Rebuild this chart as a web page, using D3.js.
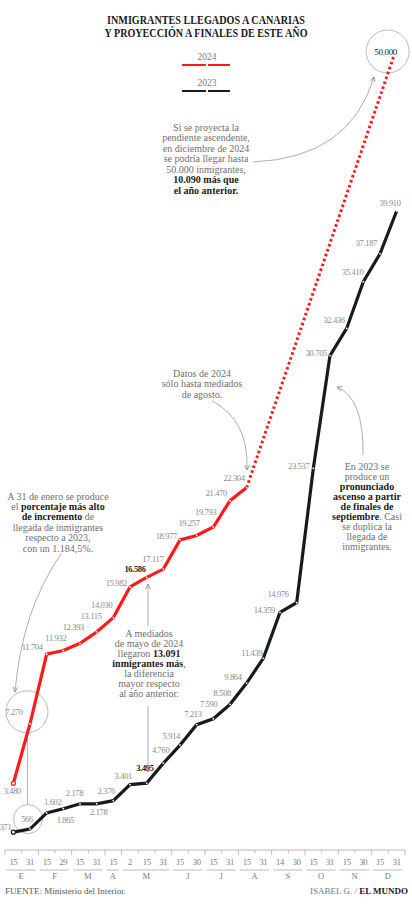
<!DOCTYPE html>
<html>
<head>
<meta charset="utf-8">
<script src="https://cdn.jsdelivr.net/npm/d3@7"></script>
<style>
  body { margin: 0; background: #fff; }
  text { font-family: "Liberation Serif", serif; }
</style>
</head>
<body>
<div id="chart"></div>
<script>
// tick labels (day of month) and month groups
var dayLabels = ["15","31","15","29","15","31","15","2","15","31","15","30",
                 "15","31","15","31","14","30","15","31","15","30","15","31"];
var monthLabels = ["E","F","M","A","M","J","J","A","S","O","N","D"];
var monthSpans  = [2, 2, 2, 1, 3, 2, 2, 2, 2, 2, 2, 2];

// accumulated arrivals
var values2023 = [371, 566, 1602, 1865, 2178, 2178, 2376, 3401, 3495, 4760, 5914, 7213,
                  7590, 8508, 9864, 11439, 14359, 14976, 23537, 30705, 32436, 35410, 37187, 39910];
var values2024 = [3480, 7270, 11704, 11932, 12393, 13115, 14030, 15982, 16586, 17117,
                  18977, 19257, 19793, 21470, 22304];
var projection2024 = 50000;

// label offsets from each point [dx, dy, anchor]
var lab2023 = [[-2,-5,"end"],null,[6,-11,"middle"],[2,11,"middle"],[-5.5,-11,"middle"],[2,8,"middle"],
  [-7,-10,"middle"],[2,-9,"end"],[7,-15,"end"],[6,-13,"end"],[0,-9,"end"],[5,-11,"end"],
  [4,-15,"end"],[1,-11,"end"],[-5,-6,"end"],[-1,-5,"end"],[-5,-2,"end"],[-8,-9,"end"],
  [-4,-2,"end"],[-3,-3,"end"],[-2,-8,"end"],[0,-10,"end"],[-3,-11,"end"],[4,-8,"end"]];
var lab2024 = [[-1,8,"middle"],null,[-4,-7,"end"],[3,-13,"end"],[4,-16,"end"],[5,-16,"end"],
  [-1,-13,"end"],[-3,-4,"end"],[-1,-8,"end"],[0,-10,"end"],[-3,-4,"end"],[3,-12,"end"],
  [3,-15,"end"],[-3,-8,"end"],[-2,-10,"end"]];
var bold2023 = [8], bold2024 = [8];

var W = 412, H = 909;
var RED = "#ff1a1a", GREY = "#7a7a7a", DARK = "#1a1a1a";

var svg = d3.select("#chart").append("svg")
    .attr("width", W).attr("height", H);
svg.append("rect").attr("width", W).attr("height", H).attr("fill", "#fff");

var defs = svg.append("defs");
defs.append("marker")
    .attr("id", "arrow")
    .attr("viewBox", "0 0 6 6")
    .attr("refX", 5).attr("refY", 3)
    .attr("markerWidth", 6).attr("markerHeight", 6)
    .attr("markerUnits", "userSpaceOnUse")
    .attr("orient", "auto")
  .append("path")
    .attr("d", "M0,0.6 L5,3 L0,5.4")
    .attr("fill", "none").attr("stroke", "#888").attr("stroke-width", 0.8);

// scales
var idx = d3.range(dayLabels.length);
var x = d3.scaleBand().domain(idx).range([5, 405]).paddingInner(0).paddingOuter(0);
var cx = function(i) { return x(i) + x.bandwidth() / 2; };
var y = d3.scaleLinear().domain([0, 50000]).range([838, 52.5]);

// title
var title = ["INMIGRANTES LLEGADOS A CANARIAS", "Y PROYECCIÓN A FINALES DE ESTE AÑO"];
svg.selectAll(".title").data(title).enter().append("text")
    .attr("class", "title")
    .attr("x", 206)
    .attr("y", function(d, i) { return 24 + i * 12.5; })
    .attr("text-anchor", "middle")
    .attr("font-size", 12.5)
    .attr("font-weight", "bold")
    .attr("fill", DARK)
    .attr("textLength", function(d, i) { return i ? 203 : 198; })
    .attr("lengthAdjust", "spacingAndGlyphs")
    .text(function(d) { return d; });

// legend
var legend = [["2024", RED], ["2023", DARK]];
legend.forEach(function(l, i) {
  var ly = 60 + i * 26;
  svg.append("text").attr("x", 207).attr("y", ly)
      .attr("text-anchor", "middle").attr("font-size", 9.5).attr("fill", GREY)
      .text(l[0]);
  svg.append("line").attr("x1", 182).attr("x2", 206).attr("y1", ly + 5).attr("y2", ly + 5)
      .attr("stroke", l[1]).attr("stroke-width", 2);
  svg.append("line").attr("x1", 208).attr("x2", 230).attr("y1", ly + 5).attr("y2", ly + 5)
      .attr("stroke", l[1]).attr("stroke-width", 2);
});

// axis
var axisY = 850;
var axis = svg.append("g").attr("class", "axis");
axis.append("line").attr("x1", 5).attr("x2", 405).attr("y1", axisY).attr("y2", axisY)
    .attr("stroke", "#aaa").attr("stroke-width", 0.8);

var monthStart = [0];
monthSpans.forEach(function(s, i) { monthStart.push(monthStart[i] + s); });

axis.selectAll(".tick").data(d3.range(dayLabels.length + 1)).enter().append("line")
    .attr("x1", function(i) { return i < dayLabels.length ? x(i) : x.range()[1]; })
    .attr("x2", function(i) { return i < dayLabels.length ? x(i) : x.range()[1]; })
    .attr("y1", axisY)
    .attr("y2", function(i) { return monthStart.indexOf(i) >= 0 ? axisY + 5 : axisY + 3; })
    .attr("stroke", "#aaa").attr("stroke-width", 0.8);

axis.selectAll(".day").data(dayLabels).enter().append("text")
    .attr("x", function(d, i) { return cx(i); })
    .attr("y", axisY + 15)
    .attr("text-anchor", "middle").attr("font-size", 8.5).attr("fill", GREY)
    .attr("letter-spacing", -0.3)
    .text(function(d) { return d; });

monthLabels.forEach(function(m, i) {
  var a = x(monthStart[i]);
  var b = monthStart[i + 1] < dayLabels.length ? x(monthStart[i + 1]) : x.range()[1];
  axis.append("line").attr("x1", a + 1.5).attr("x2", b - 2.5)
      .attr("y1", axisY + 20).attr("y2", axisY + 20)
      .attr("stroke", "#aaa").attr("stroke-width", 0.8);
  axis.append("text").attr("x", (a + b) / 2 - 0.5).attr("y", axisY + 29)
      .attr("text-anchor", "middle").attr("font-size", 8.5).attr("fill", GREY)
      .text(m);
});

// circled highlights (drawn under the lines)
function ring(px, py, r, label, lx) {
  svg.append("circle").attr("cx", px).attr("cy", py).attr("r", r)
      .attr("fill", "none").attr("stroke", "#aaa").attr("stroke-width", 0.8);
  svg.append("text").attr("x", px + (lx || 0)).attr("y", py).attr("dy", "0.35em")
      .attr("text-anchor", "middle").attr("font-size", label.dark ? 9 : 8.5)
      .attr("letter-spacing", -0.35)
      .attr("fill", label.dark ? DARK : "#8a8a8a")
      .text(label.t);
}
var fmt = function(v) { return d3.format(",")(v).replace(/,/g, "."); };
ring(cx(1) - 3, y(values2024[1]) - 12, 21, {t: fmt(values2024[1])}, -13);
ring(cx(1) - 2, y(values2023[1]) - 10, 14.5, {t: fmt(values2023[1])}, -1);
ring(cx(idx.length - 1) - 9, y(projection2024) - 1, 21.5, {t: fmt(projection2024), dark: true}, -2);

svg.append("line")
    .attr("x1", cx(1) - 2.5).attr("x2", cx(1) - 2.5)
    .attr("y1", y(values2024[1]) - 12 + 21).attr("y2", y(values2023[1]) - 10 - 14.5)
    .attr("stroke", "#aaa").attr("stroke-width", 0.8);

// lines
var line = d3.line()
    .x(function(d, i) { return cx(i); })
    .y(function(d) { return y(d); });

// projection (dotted)
var last = values2024.length - 1;
svg.append("path")
    .datum([[cx(last), y(values2024[last])], [cx(idx.length - 1) - 3, y(projection2024) + 4]])
    .attr("d", d3.line())
    .attr("fill", "none").attr("stroke", RED)
    .attr("stroke-width", 3).attr("stroke-dasharray", "2.6 2.6");

svg.append("path").datum(values2023)
    .attr("d", line)
    .attr("fill", "none").attr("stroke", DARK).attr("stroke-width", 3.2)
    .attr("stroke-linejoin", "miter");

svg.append("path").datum(values2024)
    .attr("d", line)
    .attr("fill", "none").attr("stroke", RED).attr("stroke-width", 3.2)
    .attr("stroke-linejoin", "miter");

// vertex dots
[[values2023, DARK], [values2024, RED]].forEach(function(s) {
  svg.append("g").selectAll("circle").data(s[0]).enter().append("circle")
      .attr("cx", function(d, i) { return cx(i); })
      .attr("cy", function(d) { return y(d); })
      .attr("r", function(d, i) { return i === 0 ? 2 : 0.9; })
      .attr("fill", "#fff")
      .attr("stroke", function(d, i) { return i === 0 ? s[1] : "none"; })
      .attr("stroke-width", 1.2);
});

// value labels, placed by index (2.178 repeats)
function valueLabels(values, offs, bolds) {
  var g = svg.append("g");
  values.forEach(function(v, i) {
    if (!offs[i]) return;
    var b = bolds.indexOf(i) >= 0;
    g.append("text")
      .attr("x", cx(i) + offs[i][0]).attr("y", y(v) + offs[i][1])
      .attr("dy", "0.35em")
      .attr("text-anchor", offs[i][2])
      .attr("font-size", 8.5).attr("letter-spacing", -0.35)
      .attr("font-weight", b ? "bold" : "normal")
      .attr("fill", b ? DARK : "#8a8a8a")
      .text(fmt(v));
  });
}
valueLabels(values2023, lab2023, bold2023);
valueLabels(values2024, lab2024, bold2024);

// annotations
function note(lines, nx, ny, lh) {
  var t = svg.append("text").attr("text-anchor", "middle").attr("font-size", 10);
  lines.forEach(function(segs, i) {
    var first = true;
    segs.forEach(function(s) {
      var ts = t.append("tspan").text(s[0])
          .attr("font-weight", s[1] ? "bold" : "normal")
          .attr("fill", s[1] ? DARK : "#6f6f6f");
      if (first) { ts.attr("x", nx).attr("y", ny + i * lh); first = false; }
    });
  });
}
note([[["Si se proyecta la"]], [["pendiente ascendente,"]], [["en diciembre de 2024"]],
      [["se podría llegar hasta"]], [["50.000 inmigrantes,"]],
      [["10.090 más que", 1]], [["el año anterior.", 1]]], 206, 130.5, 10.5);
note([[["Datos de 2024"]], [["sólo hasta mediados"]], [["de agosto."]]], 202, 376.5, 10.5);
note([[["A 31 de enero se produce"]], [["el "], ["porcentaje más alto", 1]],
      [["de incremento", 1], [" de"]], [["llegada de inmigrantes"]],
      [["respecto a 2023,"]], [["con un 1.184,5%."]]], 58, 499.5, 10.4);
note([[["A mediados"]], [["de mayo de 2024"]], [["llegaron "], ["13.091", 1]],
      [["inmigrantes más", 1], [","]], [["la diferencia"]], [["mayor  respecto"]],
      [["al año anterior."]]], 149, 636.5, 10);
note([[["En 2023 se"]], [["produce un"]], [["pronunciado", 1]], [["ascenso a partir", 1]],
      [["de finales de", 1]], [["septiembre", 1], [". Casi"]], [["se duplica la"]],
      [["llegada de"]], [["inmigrantes."]]], 367, 469.5, 10.1);

// arrows
var arrows = ["M253,162 Q350,158 374,77", "M212,401 Q249,420 247,470",
              "M61,554 Q22,610 15,692", "M148,626 L148,584", "M148,706 L148,772",
              "M363,455 Q364,398 337,387"];
svg.selectAll(".arrow").data(arrows).enter().append("path")
    .attr("d", function(d) { return d; })
    .attr("fill", "none").attr("stroke", "#999").attr("stroke-width", 0.8)
    .attr("marker-end", "url(#arrow)");

// footer
svg.append("text").attr("x", 5).attr("y", 894).attr("font-size", 9).attr("fill", "#555")
    .text("FUENTE: Ministerio del Interior.");
var cr = svg.append("text").attr("x", 408).attr("y", 894).attr("font-size", 9)
    .attr("text-anchor", "end");
cr.append("tspan").attr("fill", "#777").text("ISABEL G. / ");
cr.append("tspan").attr("fill", DARK).attr("font-weight", "bold").text("EL MUNDO");
</script>
</body>
</html>
